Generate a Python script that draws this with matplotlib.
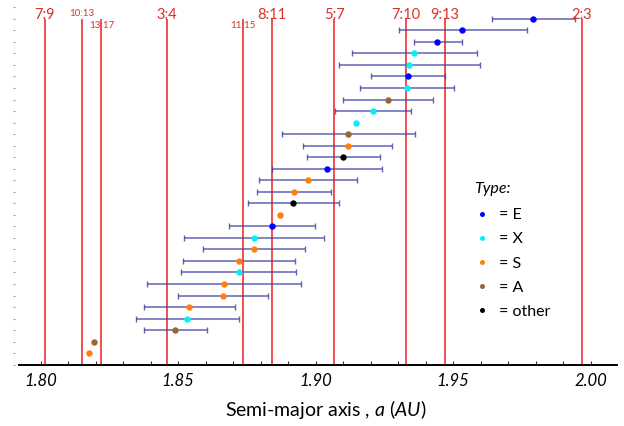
import numpy as np
import matplotlib
matplotlib.use("Agg")
import matplotlib.pyplot as plt
from matplotlib.lines import Line2D

plt.rcParams['font.family'] = ['Lato', 'DejaVu Sans']
plt.rcParams['mathtext.fontset'] = 'custom'
plt.rcParams['mathtext.rm'] = 'Lato'
plt.rcParams['mathtext.it'] = 'Lato:italic'

nan = np.nan
# Semi-major axis (AU) of each object, top row first
a_vals = [1.9791, 1.9533, 1.9442, 1.9357, 1.9340, 1.9335, 1.9333, 1.9264, 1.9209, 1.9145,
          1.9119, 1.9116, 1.9100, 1.9042, 1.8971, 1.8921, 1.8917, 1.8870, 1.8841, 1.8776,
          1.8775, 1.8721, 1.8720, 1.8667, 1.8662, 1.8540, 1.8533, 1.8487, 1.8194, 1.8175]
a_lo = [1.9640, 1.9302, 1.9356, 1.9131, 1.9085, 1.9201, 1.9161, 1.9099, 1.9069, nan,
        1.8879, 1.8955, 1.8969, 1.8842, 1.8793, 1.8787, 1.8754, nan, 1.8686, 1.8521,
        1.8589, 1.8519, 1.8511, 1.8385, 1.8498, 1.8375, 1.8347, 1.8375, nan, nan]
a_hi = [1.9944, 1.9767, 1.9531, 1.9587, 1.9597, 1.9469, 1.9504, 1.9428, 1.9345, nan,
        1.9360, 1.9279, 1.9234, 1.9241, 1.9149, 1.9056, 1.9084, nan, 1.8997, 1.9031,
        1.8961, 1.8925, 1.8929, 1.8947, 1.8825, 1.8705, 1.8721, 1.8604, nan, nan]
types = ['E', 'E', 'E', 'X', 'X', 'E', 'X', 'A', 'X', 'X',
         'A', 'S', 'other', 'E', 'S', 'S', 'other', 'S', 'E', 'X',
         'S', 'S', 'X', 'S', 'S', 'S', 'X', 'A', 'A', 'S']

# Resonance locations
res_labels = ['7:9', '10:13', '13:17', '3:4', '11:15', '8:11', '5:7', '7:10', '9:13', '2:3']
res_a = [1.8015, 1.8149, 1.8221, 1.8458, 1.8737, 1.8841, 1.9068, 1.9327, 1.9470, 1.9967]
res_small = [False, True, True, False, True, False, False, False, False, False]
res_low = [False, False, True, False, True, False, False, False, False, False]

type_names = ['E', 'X', 'S', 'A', 'other']
type_colors = {'E': '#0000ff', 'X': '#00f0ff', 'S': '#ff7f0e', 'A': '#9a6535', 'other': '#000000'}

fig = plt.figure(figsize=(6.24, 4.26), dpi=100)
ax = fig.add_axes([0.0208, 0.1439, 0.9685, 0.8390])

n = len(a_vals)
rows = np.arange(n)
av = np.array(a_vals)
lo = np.array(a_lo)
hi = np.array(a_hi)

# resonance lines
for lab, x, sm, low in zip(res_labels, res_a, res_small, res_low):
    ax.vlines(x, 0, n, color='#f01e1e', lw=1.1, zorder=1)
    if sm:
        ax.text(x, 0.84 if low else -0.23, lab, ha='center', va='baseline',
                fontsize=7, color='#d8322b', zorder=3)
    else:
        ax.text(x, 0, lab, ha='center', va='baseline', fontsize=10.5,
                color='#d8322b', zorder=3)

mask = ~np.isnan(lo)
ax.errorbar(av[mask], rows[mask], xerr=[av[mask] - lo[mask], hi[mask] - av[mask]],
            fmt='none', ecolor='#4848a4', elinewidth=1.1, capsize=2.2, capthick=1.0,
            alpha=0.85, zorder=2)
for t in type_names:
    idx = [i for i in range(n) if types[i] == t]
    ax.plot(av[idx], rows[idx], 'o', color=type_colors[t], ms=4.6, mec='none', zorder=4)

ax.set_ylim(n, -1)
ax.set_xlim(1.78993, 2.0097)
ax.set_yticks(np.arange(-1, n + 1))
ax.set_yticklabels([])
ax.tick_params(axis='y', direction='in', length=1.2, width=0.8, color='#999999')
ax.set_xticks([1.80, 1.85, 1.90, 1.95, 2.00])
ax.set_xticklabels(['1.80', '1.85', '1.90', '1.95', '2.00'], fontstyle='italic', fontsize=12)
ax.set_xticks(np.arange(1.80, 2.0051, 0.01), minor=True)
ax.tick_params(axis='x', which='both', direction='in', length=3, width=0.8, color='#333333', pad=6)
for s in ['top', 'right', 'left']:
    ax.spines[s].set_visible(False)
ax.spines['bottom'].set_bounds(1.7921, 2.0097)
ax.spines['bottom'].set_linewidth(1.4)

ax.set_xlabel(r'Semi-major axis , $a\ (AU)$', fontsize=14, labelpad=4)
ax.xaxis.set_label_coords(0.518, -0.092, transform=ax.transAxes)

handles = [Line2D([], [], ls='none', marker='o', ms=3.6, mec='none', color=type_colors[t])
           for t in type_names]
leg = ax.legend(handles, ['= ' + t for t in type_names], title='Type:', loc='upper left',
                bbox_to_anchor=(0.763, 0.512), frameon=False, fontsize=11.5,
                title_fontproperties={'size': 11.5, 'style': 'italic'},
                borderpad=0, borderaxespad=0, handlelength=1.0, handletextpad=0.55,
                labelspacing=0.62)
leg._legend_box.align = 'left'
leg._legend_box.sep = 9

fig.savefig('out.png', dpi=100)
